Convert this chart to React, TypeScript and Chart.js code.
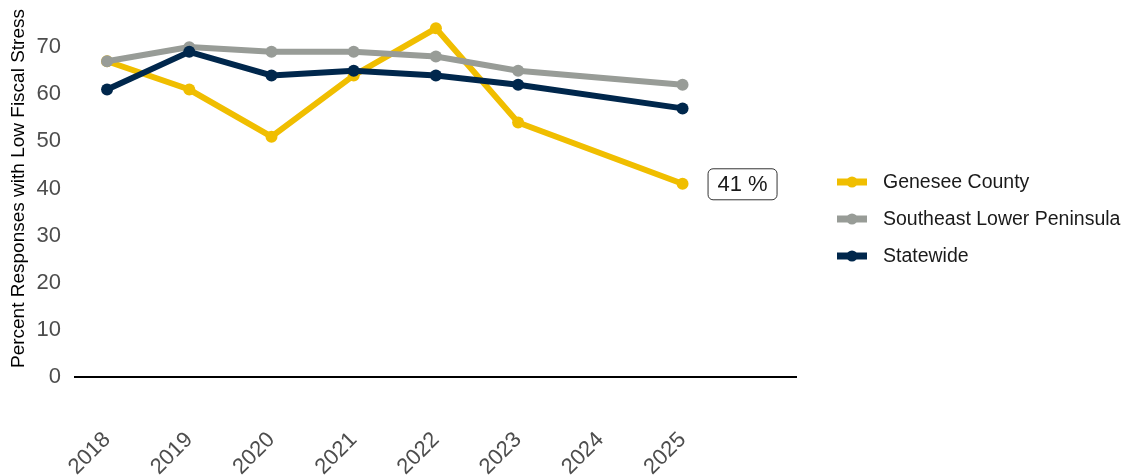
import React, { useEffect, useRef } from "react";
import { Chart, registerables } from "chart.js";

Chart.register(...registerables);

const years = [2018, 2019, 2020, 2021, 2022, 2023, 2024, 2025];
const yearLabels = ["2018", "2019", "2020", "2021", "2022", "2023", "2024", "2025"];
const genesee = [67, 61, 51, 64, 74, 54, null, 41];
const southeast = [67, 70, 69, 69, 68, 65, null, 62];
const statewide = [61, 69, 64, 65, 64, 62, null, 57];
const seriesNames = ["Genesee County", "Southeast Lower Peninsula", "Statewide"];
const seriesColors = ["#F0BE00", "#989C97", "#00274C"];
const seriesDrawOrder = [3, 2, 1];
const yTicks = [0, 10, 20, 30, 40, 50, 60, 70];
const yTitle = "Percent Responses with Low Fiscal Stress";
const annotationSuffix = " %";

const FONT = "'Liberation Sans', Arial, Helvetica, sans-serif";

const legendPlugin = {
  id: "customLegend",
  afterDraw(chart: any) {
    const ctx = chart.ctx;
    const left = chart.chartArea.right + 41;
    const startY = 182;
    const gap = 37;
    ctx.save();
    chart.data.datasets.forEach((ds: any, i: number) => {
      const y = startY + i * gap;
      ctx.strokeStyle = ds.borderColor;
      ctx.lineWidth = 7;
      ctx.lineCap = "butt";
      ctx.beginPath();
      ctx.moveTo(left, y);
      ctx.lineTo(left + 30, y);
      ctx.stroke();
      ctx.fillStyle = ds.borderColor;
      ctx.beginPath();
      ctx.arc(left + 15, y, 5.5, 0, Math.PI * 2);
      ctx.fill();
      ctx.fillStyle = "#1A1A1A";
      ctx.font = `19.5px ${FONT}`;
      ctx.textAlign = "left";
      ctx.textBaseline = "middle";
      ctx.fillText(ds.label, left + 46, y + 1);
    });
    ctx.restore();
  },
};

const annotationPlugin = {
  id: "lastValueLabel",
  afterDatasetsDraw(chart: any) {
    const meta = chart.getDatasetMeta(0);
    const data = chart.data.datasets[0].data;
    let idx = data.length - 1;
    while (idx >= 0 && (data[idx] == null || data[idx].y == null)) idx--;
    if (idx < 0) return;
    const pt = meta.data[idx];
    const ctx = chart.ctx;
    const text = `${data[idx].y}${annotationSuffix}`;
    const bx = pt.x + 25;
    const bw = 69;
    const bh = 31;
    const by = pt.y - bh / 2;
    ctx.save();
    ctx.fillStyle = "#FFFFFF";
    ctx.strokeStyle = "#333333";
    ctx.lineWidth = 1;
    ctx.beginPath();
    (ctx as any).roundRect(bx + 0.5, by + 0.5, bw, bh, 5);
    ctx.fill();
    ctx.stroke();
    ctx.fillStyle = "#1A1A1A";
    ctx.font = `22px ${FONT}`;
    ctx.textAlign = "center";
    ctx.textBaseline = "middle";
    ctx.fillText(text, bx + bw / 2 + 0.5, by + bh / 2 + 1.5);
    ctx.restore();
  },
};

export default function App() {
  const canvasRef = useRef<HTMLCanvasElement | null>(null);

  useEffect(() => {
    if (!canvasRef.current) return;
    const series = [genesee, southeast, statewide];
    const chart = new Chart(canvasRef.current, {
      type: "line",
      data: {
        datasets: series.map((vals, i) => ({
          label: seriesNames[i],
          order: seriesDrawOrder[i],
          data: years.map((yr, j) => ({ x: yr, y: vals[j] })),
          borderColor: seriesColors[i],
          backgroundColor: seriesColors[i],
          borderWidth: 6,
          pointRadius: 6,
          pointHoverRadius: 6,
          pointBorderWidth: 0,
          pointBackgroundColor: seriesColors[i],
          spanGaps: true,
          tension: 0,
          clip: false as any,
        })),
      },
      options: {
        animation: false,
        responsive: true,
        maintainAspectRatio: false,
        layout: { autoPadding: false, padding: { top: 0, right: 329, bottom: 0, left: 0 } },
        plugins: {
          legend: { display: false },
          tooltip: { enabled: false },
        },
        scales: {
          x: {
            type: "linear",
            min: 2017.61,
            max: 2026.38,
            afterBuildTicks: (s: any) => {
              s.ticks = years.map((v) => ({ value: v }));
            },
            afterFit: (s: any) => {
              s.height = 98;
              s.paddingLeft = 0;
              s.paddingRight = 0;
            },
            ticks: {
              autoSkip: false,
              minRotation: 45,
              maxRotation: 45,
              padding: 50,
              color: "#4D4D4D",
              font: { family: FONT, size: 22 },
              callback: (v: any) => {
                const k = years.indexOf(Number(v));
                return k >= 0 ? yearLabels[k] : "";
              },
            },
            grid: { display: false, drawTicks: false },
            border: { display: true, color: "#000000", width: 2 },
          },
          y: {
            min: 0,
            max: 80,
            afterBuildTicks: (s: any) => {
              s.ticks = yTicks.map((v) => ({ value: v }));
            },
            afterFit: (s: any) => {
              s.width = 75;
              s.paddingTop = 0;
              s.paddingBottom = 0;
            },
            ticks: {
              padding: 14,
              color: "#4D4D4D",
              font: { family: FONT, size: 22 },
            },
            grid: { display: false, drawTicks: false },
            border: { display: false },
            title: {
              display: true,
              text: yTitle,
              color: "#000000",
              font: { family: FONT, size: 19 },
              padding: { top: 7, bottom: 0 },
            },
          },
        },
      },
      plugins: [legendPlugin, annotationPlugin],
    } as any);
    return () => chart.destroy();
  }, []);

  return (
    <div style={{ position: "fixed", left: 0, top: 0, width: 1125, height: 475, background: "#fff" }}>
      <canvas ref={canvasRef} />
    </div>
  );
}
